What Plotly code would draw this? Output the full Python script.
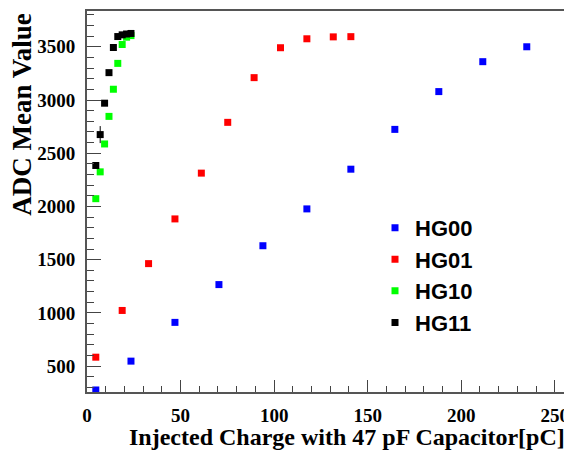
import plotly.graph_objects as go

# ---- data ----
hg00_x = [4.7, 23.5, 47.0, 70.5, 94.0, 117.5, 141.0, 164.5, 188.0, 211.5, 235.0]
hg00_y = [276, 547, 911, 1266, 1631, 1977, 2350, 2724, 3079, 3360, 3500]
hg00_e = [25, 10, 10, 10, 10, 10, 10, 15, 15, 10, 10]

hg01_x = [4.7, 18.8, 32.9, 47.0, 61.1, 75.2, 89.3, 103.4, 117.5, 131.6, 141.0]
hg01_y = [584, 1023, 1463, 1883, 2313, 2790, 3210, 3491, 3575, 3593, 3595]
hg01_e = [10, 10, 10, 10, 10, 10, 15, 10, 10, 10, 10]

hg10_x = [4.7, 7.05, 9.4, 11.75, 14.1, 16.45, 18.8, 21.15, 23.5]
hg10_y = [2073, 2325, 2587, 2846, 3101, 3344, 3521, 3590, 3605]
hg10_e = [10, 10, 10, 10, 10, 10, 10, 10, 10]

hg11_x = [4.7, 7.05, 9.4, 11.75, 14.1, 16.45, 18.8, 21.15, 23.5]
hg11_y = [2385, 2675, 2970, 3257, 3493, 3596, 3612, 3620, 3625]
hg11_e = [15, 80, 10, 10, 10, 10, 10, 10, 10]

series = [
    ("HG00", hg00_x, hg00_y, hg00_e, "#0000ff"),
    ("HG01", hg01_x, hg01_y, hg01_e, "#ff0000"),
    ("HG10", hg10_x, hg10_y, hg10_e, "#00ff00"),
    ("HG11", hg11_x, hg11_y, hg11_e, "#000000"),
]

fig = go.Figure()
for name, xs, ys, es, col in series:
    fig.add_trace(go.Scatter(
        x=xs, y=ys, mode="markers", name=name,
        marker=dict(symbol="square", size=7, color=col, line=dict(width=0)),
        error_y=dict(type="data", array=es, visible=True, color=col,
                     thickness=1, width=0),
    ))

tickfont = dict(family="Liberation Serif", size=19, color="black", weight="bold")

# The page body adds an 8px offset, so the figure is sized to fill the window.
fig.update_layout(
    width=564, height=445,
    margin=dict(l=79, r=5, t=1, b=61),
    paper_bgcolor="white", plot_bgcolor="white",
    showlegend=True,
    legend=dict(
        x=0.60, y=0.486, xanchor="left", yanchor="top",
        font=dict(family="Liberation Sans", size=22, color="black", weight="bold"),
        bgcolor="rgba(0,0,0,0)", itemsizing="trace", tracegroupgap=0,
    ),
    xaxis=dict(
        range=[0, 256.5], showgrid=False, zeroline=False,
        tickmode="linear", tick0=0, dtick=50,
        ticks="inside", ticklen=12, tickwidth=1, tickcolor="#444",
        minor=dict(ticks="inside", ticklen=6, dtick=10, tickcolor="#444", showgrid=False),
        showline=True, linecolor="#555", linewidth=2, mirror=True,
        tickfont=tickfont, ticklabelstandoff=5,
    ),
    yaxis=dict(
        range=[257, 3836], showgrid=False, zeroline=False,
        tickmode="linear", tick0=500, dtick=500,
        ticks="inside", ticklen=14, tickwidth=1, tickcolor="#444",
        minor=dict(ticks="inside", ticklen=7, dtick=100, tickcolor="#444", showgrid=False),
        showline=True, linecolor="#555", linewidth=2, mirror=True,
        tickfont=tickfont, ticklabelstandoff=6,
    ),
    annotations=[
        dict(text="ADC Mean Value", xref="paper", yref="paper",
             x=-0.137, y=1.0, xanchor="center", yanchor="top", textangle=-90,
             showarrow=False,
             font=dict(family="Liberation Serif", size=27, color="black", weight="bold")),
        dict(text="Injected Charge with 47 pF Capacitor[pC]", xref="paper", yref="paper",
             x=1.0, y=0, xanchor="right", yanchor="top", yshift=-30,
             showarrow=False,
             font=dict(family="Liberation Serif", size=24, color="black", weight="bold")),
    ],
)

fig.write_html("out.html")
